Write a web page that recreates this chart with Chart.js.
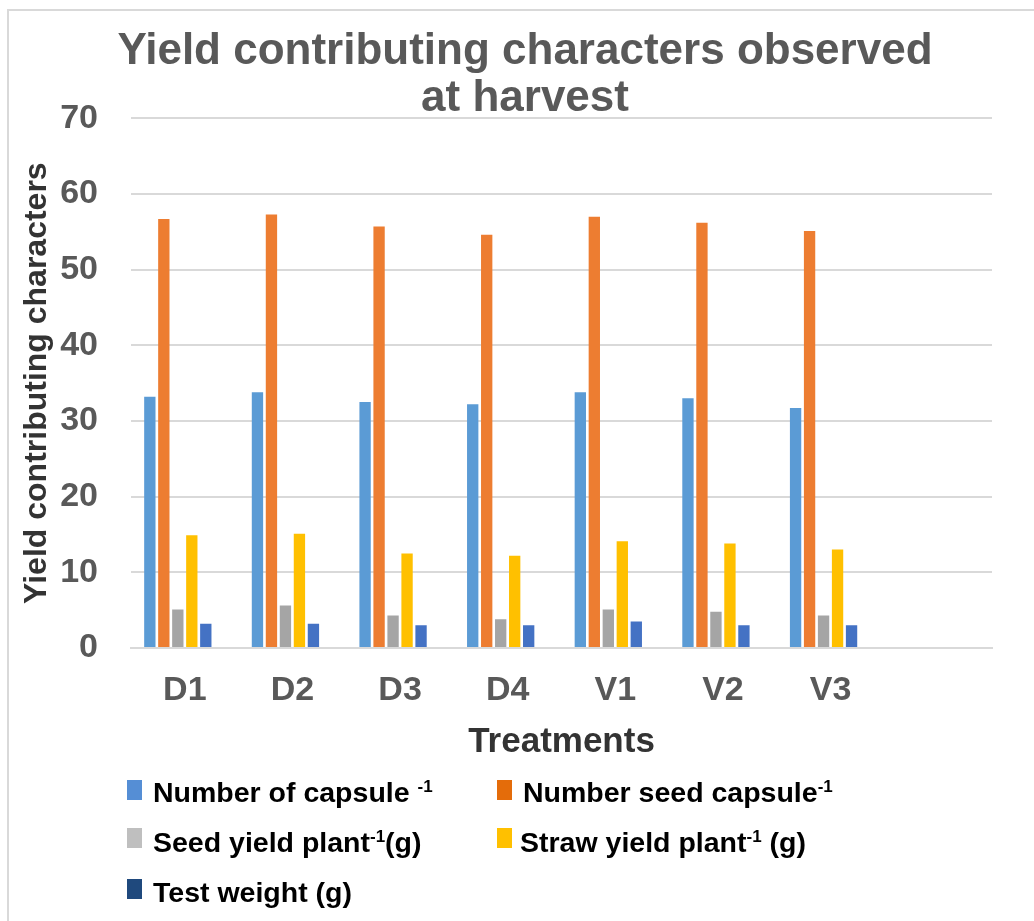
<!DOCTYPE html>
<html>
<head>
<meta charset="utf-8">
<script src="https://cdn.jsdelivr.net/npm/chart.js@4/dist/chart.umd.min.js"></script>
<style>
  html, body { margin: 0; padding: 0; background: #ffffff; }
  body { width: 1034px; height: 921px; position: relative; overflow: hidden;
         font-family: "Liberation Sans", Arial, sans-serif; }
  #frame { position: absolute; left: 7px; top: 9px; width: 1100px; height: 1000px;
           border-left: 2px solid #d9d9d9; border-top: 2px solid #d9d9d9; }
  #chart { position: absolute; left: 0; top: 0; }
  .key { position: absolute; width: 15px; height: 20px; }
  .lbl { position: absolute; font-size: 28.5px; line-height: 28px; font-weight: bold;
         color: #000; white-space: nowrap; }
  .lbl sup { font-size: 17px; line-height: 0; vertical-align: 10px; }
</style>
</head>
<body>
<div id="frame"></div>
<canvas id="chart" width="1034" height="921"></canvas>

<div class="key" style="left:127px; top:780px; background:#558ed5"></div>
<div class="lbl" style="left:153px; top:778px">Number of capsule <sup>-1</sup></div>
<div class="key" style="left:497px; top:780px; background:#e46c0a"></div>
<div class="lbl" style="left:523px; top:778px">Number seed capsule<sup>-1</sup></div>

<div class="key" style="left:127px; top:828px; background:#bfbfbf"></div>
<div class="lbl" style="left:153px; top:828px">Seed yield plant<sup>-1</sup>(g)</div>
<div class="key" style="left:497px; top:828px; background:#ffc000"></div>
<div class="lbl" style="left:520px; top:828px">Straw yield plant<sup>-1</sup> (g)</div>

<div class="key" style="left:127px; top:879px; background:#1f497d"></div>
<div class="lbl" style="left:153px; top:878px">Test weight (g)</div>

<script>
// Treatments on the x axis (the last slot is left empty)
const categories = ['D1', 'D2', 'D3', 'D4', 'V1', 'V2', 'V3', ''];

// Yield contributing characters per treatment
const capsulesPerPlant = [33.2, 33.8, 32.5, 32.2, 33.8, 33.0, 31.7];
const seedsPerCapsule  = [56.7, 57.3, 55.7, 54.6, 57.0, 56.2, 55.1];
const seedYieldPlant   = [5.1, 5.6, 4.3, 3.8, 5.1, 4.8, 4.3];
const strawYieldPlant  = [14.9, 15.1, 12.5, 12.2, 14.1, 13.8, 13.0];
const testWeight       = [3.2, 3.2, 3.0, 3.0, 3.5, 3.0, 3.0];

// Value axis range
const yMin = 0;
const yMax = 70;
const yStep = 10;

const FONT = '"Liberation Sans", Arial, sans-serif';
Chart.defaults.font.family = FONT;

function bars(label, data, color) {
  return { label, data, backgroundColor: color, borderWidth: 0 };
}

new Chart(document.getElementById('chart'), {
  type: 'bar',
  data: {
    labels: categories,
    datasets: [
      bars('Number of capsule -1', capsulesPerPlant, '#5b9bd5'),
      bars('Number seed capsule-1', seedsPerCapsule, '#ed7d31'),
      bars('Seed yield plant-1(g)', seedYieldPlant, '#a5a5a5'),
      bars('Straw yield plant-1 (g)', strawYieldPlant, '#ffc000'),
      bars('Test weight (g)', testWeight, '#4472c4'),
      // empty series that keeps the slot after the last bar of each group
      bars('', [], 'rgba(0,0,0,0)')
    ]
  },
  options: {
    responsive: false,
    animation: false,
    devicePixelRatio: 1,
    categoryPercentage: 0.78,
    barPercentage: 0.81,
    layout: { padding: { left: 16, right: 0, top: 0, bottom: 151 } },
    plugins: {
      legend: { display: false },
      tooltip: { enabled: false },
      title: {
        display: true,
        text: ['Yield contributing characters observed', 'at harvest'],
        color: '#595959',
        font: { size: 44, weight: 'bold', lineHeight: 1.06 },
        padding: { top: 29, bottom: -4 }
      }
    },
    scales: {
      x: {
        grid: { display: false, drawTicks: false },
        border: { display: true, color: '#d9d9d9', width: 2 },
        ticks: { color: '#595959', font: { size: 34, weight: 'bold' }, padding: 22 },
        title: {
          display: true,
          text: 'Treatments',
          color: '#333333',
          font: { size: 35, weight: 'bold' },
          padding: { top: 0, bottom: 7 }
        },
        afterFit(scale) { scale.height = 122; }
      },
      y: {
        min: yMin,
        max: yMax,
        grid: { color: '#d9d9d9', lineWidth: 2, drawTicks: false },
        border: { display: false },
        ticks: { stepSize: yStep, color: '#595959', font: { size: 34, weight: 'bold' }, padding: 33 },
        title: {
          display: true,
          text: 'Yield contributing characters',
          color: '#333333',
          font: { size: 32, weight: 'bold' },
          padding: { top: 2, bottom: 0 }
        },
        afterFit(scale) { scale.width = 115; }
      },
      // blank right-hand margin beside the plot
      yPad: {
        position: 'right',
        grid: { display: false, drawTicks: false },
        border: { display: false },
        ticks: { display: false },
        afterFit(scale) { scale.width = 42; }
      }
    }
  }
});
</script>
</body>
</html>
